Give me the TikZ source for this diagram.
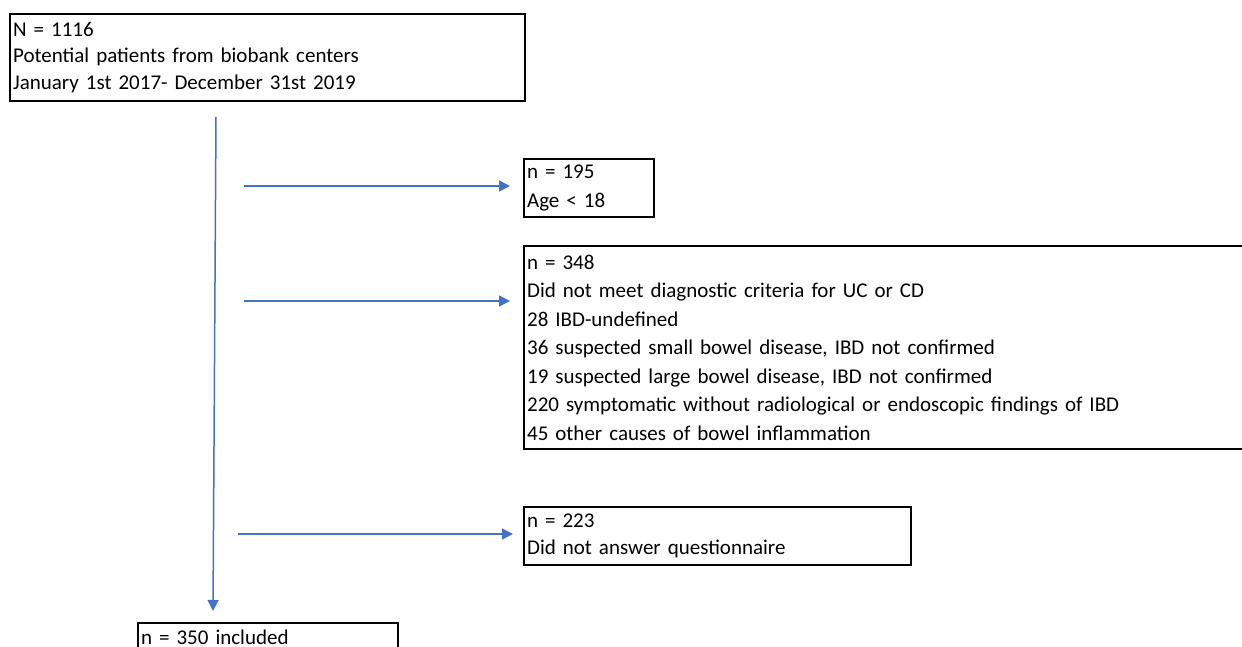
\documentclass[tikz,border=0pt]{standalone}
\usepackage{fontspec}
\setmainfont{Carlito}
\usetikzlibrary{arrows.meta}
\definecolor{flowblue}{HTML}{4472C4}

\begin{document}
\begin{tikzpicture}[x=1pt,y=-1pt,
    box/.style={draw,line width=2.2pt,rectangle,anchor=north west,inner xsep=3pt,inner ysep=0pt,
                align=left,font=\fontsize{21}{26.5}\selectfont},
    flow/.style={draw=flowblue,line width=1.5pt,-{Triangle[length=11pt,width=11pt]}}]

            \useasboundingbox (0,0) rectangle (1242,647);
            \clip (0,0) rectangle (1242,647);

            \node[box,text width=509pt,minimum height=87pt] (total) at (9,13)
                {N = 1116\\Potential patients from biobank centers\\January 1st 2017- December 31st 2019};

            \node[box,text width=124pt,minimum height=58pt,font=\fontsize{21}{28.5}\selectfont] (age) at (523,158)
                {n = 195\\Age < 18};

            \node[box,text width=774pt,minimum height=203pt,font=\fontsize{21}{28.5}\selectfont] (diag) at (523,245)
                {n = 348\\Did not meet diagnostic criteria for UC or CD\\28 IBD-undefined\\
                 36 suspected small bowel disease, IBD not confirmed\\
                 19 suspected large bowel disease, IBD not confirmed\\
                 220 symptomatic without radiological or endoscopic findings of IBD\\
                 45 other causes of bowel inflammation};

            \node[box,text width=381pt,minimum height=58pt] (quest) at (523,506)
                {n = 223\\Did not answer questionnaire};

            \node[box,text width=254pt,minimum height=29pt] (incl) at (137,622)
                {n = 350 included};

            \coordinate (vtop) at (216,117);
            \coordinate (vbot) at (213,611);
            \coordinate (a1) at (244,186);
            \coordinate (a2) at (244,301);
            \coordinate (a3) at (238,534);

            \draw[flow] (vtop) -- (vbot);
            \draw[flow,shorten >=13pt] (a1) -- (a1 -| age.west);
            \draw[flow,shorten >=13pt] (a2) -- (a2 -| diag.west);
            \draw[flow,shorten >=10pt] (a3) -- (a3 -| quest.west);

        \end{tikzpicture}
\end{document}
